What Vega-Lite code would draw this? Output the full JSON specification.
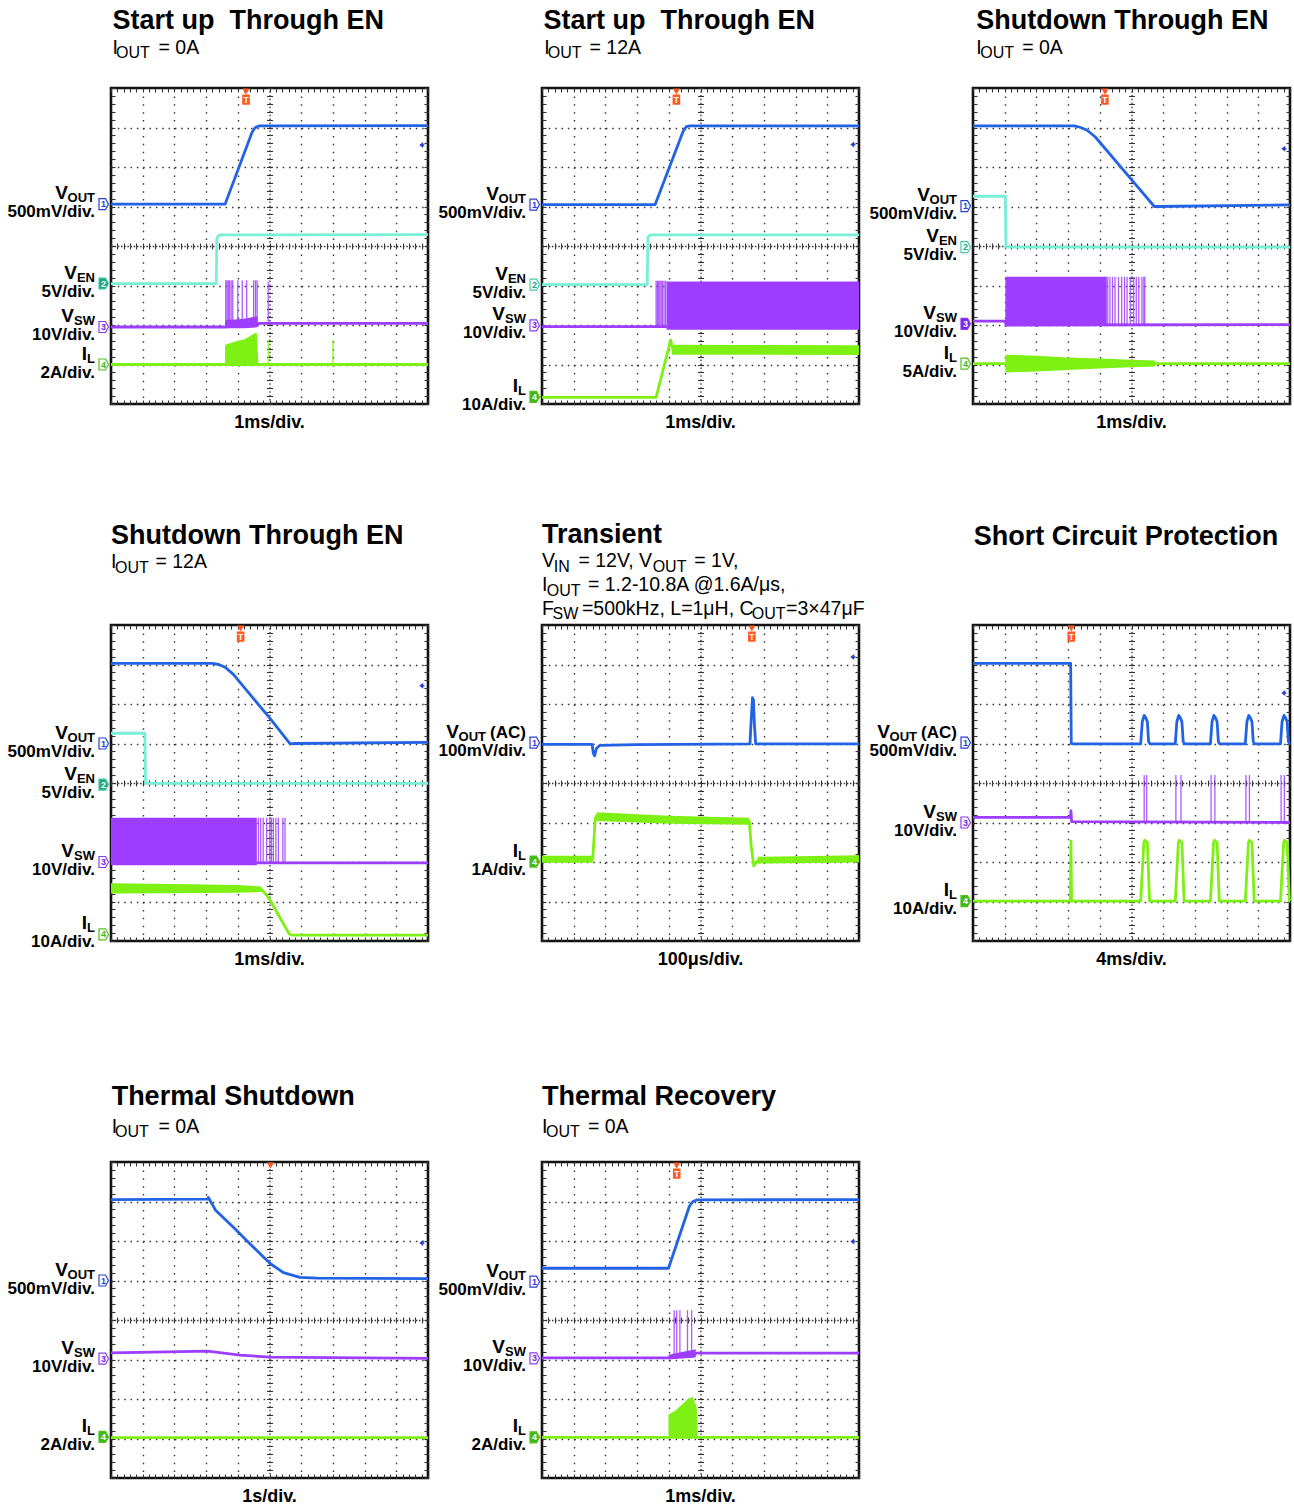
{
"$schema": "https://vega.github.io/schema/vega-lite/v6.json",
"background": "white",
"padding": {"left": 6, "top": 4, "right": 0, "bottom": 0},
"data": {"values": [
{"p":1,"k":"t","id":"1a","ch":"VOUT","x":0,"y":5.06},{"p":1,"k":"t","id":"1a","ch":"VOUT","x":3.6,"y":5.06},{"p":1,"k":"t","id":"1a","ch":"VOUT","x":4.45,"y":6.88},{"p":1,"k":"t","id":"1a","ch":"VOUT","x":4.55,"y":7.0},{"p":1,"k":"t","id":"1a","ch":"VOUT","x":4.68,"y":7.04},{"p":1,"k":"t","id":"1a","ch":"VOUT","x":10,"y":7.05},
{"p":1,"k":"t","id":"1b","ch":"VEN","x":0,"y":3.05},{"p":1,"k":"t","id":"1b","ch":"VEN","x":3.32,"y":3.05},{"p":1,"k":"t","id":"1b","ch":"VEN","x":3.34,"y":4.2},{"p":1,"k":"t","id":"1b","ch":"VEN","x":3.42,"y":4.28},{"p":1,"k":"t","id":"1b","ch":"VEN","x":10,"y":4.29},
{"p":1,"k":"t","id":"1c","ch":"VSW","x":0,"y":1.95},{"p":1,"k":"t","id":"1c","ch":"VSW","x":3.6,"y":1.95},{"p":1,"k":"t","id":"1c","ch":"VSW","x":4.62,"y":2.0},{"p":1,"k":"t","id":"1c","ch":"VSW","x":4.66,"y":2.04},{"p":1,"k":"t","id":"1c","ch":"VSW","x":10,"y":2.04},
{"p":1,"k":"t","id":"1d","ch":"IL","x":0,"y":1.0},{"p":1,"k":"t","id":"1d","ch":"IL","x":10,"y":1.0},
{"p":1,"k":"b","id":"1e","ch":"VSW","x":3.6,"y":1.92,"y2":2.12},{"p":1,"k":"b","id":"1e","ch":"VSW","x":4.2,"y":1.92,"y2":2.16},{"p":1,"k":"b","id":"1e","ch":"VSW","x":4.62,"y":1.94,"y2":2.22},
{"p":1,"k":"b","id":"1f","ch":"IL","x":3.6,"y":1.0,"y2":1.5},{"p":1,"k":"b","id":"1f","ch":"IL","x":3.8,"y":1.0,"y2":1.55},{"p":1,"k":"b","id":"1f","ch":"IL","x":4.0,"y":1.0,"y2":1.6},{"p":1,"k":"b","id":"1f","ch":"IL","x":4.2,"y":1.0,"y2":1.63},{"p":1,"k":"b","id":"1f","ch":"IL","x":4.35,"y":1.0,"y2":1.7},{"p":1,"k":"b","id":"1f","ch":"IL","x":4.5,"y":1.0,"y2":1.78},{"p":1,"k":"b","id":"1f","ch":"IL","x":4.6,"y":1.0,"y2":1.8},{"p":1,"k":"b","id":"1f","ch":"IL","x":4.65,"y":1.0,"y2":1.02},
{"p":1,"k":"s","ch":"VSW","x":3.62,"y":1.98,"y2":3.13},{"p":1,"k":"s","ch":"VSW","x":3.66,"y":1.98,"y2":3.13},{"p":1,"k":"s","ch":"VSW","x":3.7,"y":1.98,"y2":3.13},{"p":1,"k":"s","ch":"VSW","x":3.74,"y":1.98,"y2":3.13},{"p":1,"k":"s","ch":"VSW","x":3.79,"y":1.98,"y2":3.13},{"p":1,"k":"s","ch":"VSW","x":3.84,"y":1.98,"y2":3.13},{"p":1,"k":"s","ch":"VSW","x":4.0,"y":1.98,"y2":3.13},{"p":1,"k":"s","ch":"VSW","x":4.14,"y":1.98,"y2":3.13},{"p":1,"k":"s","ch":"VSW","x":4.28,"y":1.98,"y2":3.13},{"p":1,"k":"s","ch":"VSW","x":4.5,"y":1.98,"y2":3.13},{"p":1,"k":"s","ch":"VSW","x":4.56,"y":1.98,"y2":3.13},{"p":1,"k":"s","ch":"VSW","x":4.61,"y":1.98,"y2":3.13},{"p":1,"k":"s","ch":"VSW","x":4.96,"y":2.04,"y2":3.1},
{"p":1,"k":"s","ch":"IL","x":4.96,"y":1.0,"y2":1.62},{"p":1,"k":"s","ch":"IL","x":7.0,"y":1.0,"y2":1.62},
{"p":1,"k":"m","ch":"VOUT","y":5.06,"n":"1","act":false},{"p":1,"k":"m","ch":"VEN","y":3.05,"n":"2","act":true},{"p":1,"k":"m","ch":"VSW","y":1.95,"n":"3","act":false},{"p":1,"k":"m","ch":"IL","y":1.0,"n":"4","act":false},
{"p":1,"k":"l","ch":"VOUT","y":5.06,"mn":"V","sub":"OUT","sc":"500mV/div."},{"p":1,"k":"l","ch":"VEN","y":3.05,"mn":"V","sub":"EN","sc":"5V/div."},{"p":1,"k":"l","ch":"VSW","y":1.95,"mn":"V","sub":"SW","sc":"10V/div."},{"p":1,"k":"l","ch":"IL","y":1.0,"mn":"I","sub":"L","sc":"2A/div."},
{"p":1,"k":"T","x":0.05,"y":9.5,"txt":"Start up\u00a0 Through EN"},
{"p":1,"k":"u","s":"m","x":0.05,"y":8.87,"txt":"I"},{"p":1,"k":"u","s":"s","x":0.16,"y":8.76,"txt":"OUT"},{"p":1,"k":"u","s":"m","x":1.5,"y":8.87,"txt":"= 0A"},
{"p":1,"k":"g","x":4.26,"g":"T"},{"p":1,"k":"a","y":6.56},{"p":1,"k":"x","txt":"1ms/div."},

{"p":2,"k":"t","id":"2a","ch":"VOUT","x":0,"y":5.05},{"p":2,"k":"t","id":"2a","ch":"VOUT","x":3.57,"y":5.05},{"p":2,"k":"t","id":"2a","ch":"VOUT","x":4.45,"y":6.9},{"p":2,"k":"t","id":"2a","ch":"VOUT","x":4.55,"y":7.02},{"p":2,"k":"t","id":"2a","ch":"VOUT","x":4.66,"y":7.04},{"p":2,"k":"t","id":"2a","ch":"VOUT","x":10,"y":7.04},
{"p":2,"k":"t","id":"2b","ch":"VEN","x":0,"y":3.02},{"p":2,"k":"t","id":"2b","ch":"VEN","x":3.32,"y":3.02},{"p":2,"k":"t","id":"2b","ch":"VEN","x":3.34,"y":4.22},{"p":2,"k":"t","id":"2b","ch":"VEN","x":3.42,"y":4.28},{"p":2,"k":"t","id":"2b","ch":"VEN","x":10,"y":4.28},
{"p":2,"k":"t","id":"2c","ch":"VSW","x":0,"y":1.96},{"p":2,"k":"t","id":"2c","ch":"VSW","x":10,"y":1.96},
{"p":2,"k":"b","id":"2e","ch":"VSW","x":3.93,"y":1.88,"y2":3.1},{"p":2,"k":"b","id":"2e","ch":"VSW","x":10,"y":1.88,"y2":3.1},
{"p":2,"k":"s","ch":"VSW","x":3.6,"y":1.96,"y2":3.12},{"p":2,"k":"s","ch":"VSW","x":3.64,"y":1.96,"y2":3.12},{"p":2,"k":"s","ch":"VSW","x":3.68,"y":1.96,"y2":3.12},{"p":2,"k":"s","ch":"VSW","x":3.72,"y":1.96,"y2":3.12},{"p":2,"k":"s","ch":"VSW","x":3.76,"y":1.96,"y2":3.12},{"p":2,"k":"s","ch":"VSW","x":3.8,"y":1.96,"y2":3.12},{"p":2,"k":"s","ch":"VSW","x":3.85,"y":1.96,"y2":3.12},{"p":2,"k":"s","ch":"VSW","x":3.9,"y":1.96,"y2":3.12},
{"p":2,"k":"t","id":"2d","ch":"IL","x":0,"y":0.17},{"p":2,"k":"t","id":"2d","ch":"IL","x":3.6,"y":0.17},{"p":2,"k":"t","id":"2d","ch":"IL","x":4.06,"y":1.62},{"p":2,"k":"t","id":"2d","ch":"IL","x":4.12,"y":1.4},{"p":2,"k":"t","id":"2d","ch":"IL","x":10,"y":1.37},
{"p":2,"k":"b","id":"2f","ch":"IL","x":4.1,"y":1.25,"y2":1.5},{"p":2,"k":"b","id":"2f","ch":"IL","x":10,"y":1.24,"y2":1.49},
{"p":2,"k":"m","ch":"VOUT","y":5.05,"n":"1","act":false},{"p":2,"k":"m","ch":"VEN","y":3.02,"n":"2","act":false},{"p":2,"k":"m","ch":"VSW","y":1.99,"n":"3","act":false},{"p":2,"k":"m","ch":"IL","y":0.18,"n":"4","act":true},
{"p":2,"k":"l","ch":"VOUT","y":5.05,"mn":"V","sub":"OUT","sc":"500mV/div."},{"p":2,"k":"l","ch":"VEN","y":3.02,"mn":"V","sub":"EN","sc":"5V/div."},{"p":2,"k":"l","ch":"VSW","y":1.99,"mn":"V","sub":"SW","sc":"10V/div."},{"p":2,"k":"l","ch":"IL","y":0.18,"mn":"I","sub":"L","sc":"10A/div."},
{"p":2,"k":"T","x":0.05,"y":9.5,"txt":"Start up\u00a0 Through EN"},
{"p":2,"k":"u","s":"m","x":0.07,"y":8.87,"txt":"I"},{"p":2,"k":"u","s":"s","x":0.18,"y":8.76,"txt":"OUT"},{"p":2,"k":"u","s":"m","x":1.5,"y":8.87,"txt":"= 12A"},
{"p":2,"k":"g","x":4.24,"g":"T"},{"p":2,"k":"a","y":6.57},{"p":2,"k":"x","txt":"1ms/div."},

{"p":3,"k":"t","id":"3a","ch":"VOUT","x":0,"y":7.04},{"p":3,"k":"t","id":"3a","ch":"VOUT","x":3.2,"y":7.04},{"p":3,"k":"t","id":"3a","ch":"VOUT","x":3.4,"y":7.0},{"p":3,"k":"t","id":"3a","ch":"VOUT","x":3.6,"y":6.93},{"p":3,"k":"t","id":"3a","ch":"VOUT","x":3.86,"y":6.76},{"p":3,"k":"t","id":"3a","ch":"VOUT","x":5.02,"y":5.66},{"p":3,"k":"t","id":"3a","ch":"VOUT","x":5.72,"y":5.0},{"p":3,"k":"t","id":"3a","ch":"VOUT","x":5.8,"y":5.0},{"p":3,"k":"t","id":"3a","ch":"VOUT","x":10,"y":5.04},
{"p":3,"k":"t","id":"3b","ch":"VEN","x":0,"y":5.26},{"p":3,"k":"t","id":"3b","ch":"VEN","x":1.02,"y":5.26},{"p":3,"k":"t","id":"3b","ch":"VEN","x":1.04,"y":3.97},{"p":3,"k":"t","id":"3b","ch":"VEN","x":10,"y":3.97},
{"p":3,"k":"t","id":"3c","ch":"VSW","x":0,"y":2.1},{"p":3,"k":"t","id":"3c","ch":"VSW","x":1.02,"y":2.1},{"p":3,"k":"t","id":"3c","ch":"VSW","x":1.04,"y":2.0},{"p":3,"k":"t","id":"3c","ch":"VSW","x":10,"y":2.01},
{"p":3,"k":"b","id":"3e","ch":"VSW","x":1.02,"y":1.99,"y2":3.22},{"p":3,"k":"b","id":"3e","ch":"VSW","x":4.22,"y":1.99,"y2":3.22},
{"p":3,"k":"s","ch":"VSW","x":4.25,"y":2.0,"y2":3.22},{"p":3,"k":"s","ch":"VSW","x":4.32,"y":2.0,"y2":3.22},{"p":3,"k":"s","ch":"VSW","x":4.4,"y":2.0,"y2":3.22},{"p":3,"k":"s","ch":"VSW","x":4.48,"y":2.0,"y2":3.22},{"p":3,"k":"s","ch":"VSW","x":4.59,"y":2.0,"y2":3.22},{"p":3,"k":"s","ch":"VSW","x":4.69,"y":2.0,"y2":3.22},{"p":3,"k":"s","ch":"VSW","x":4.78,"y":2.0,"y2":3.22},{"p":3,"k":"s","ch":"VSW","x":4.86,"y":2.0,"y2":3.22},{"p":3,"k":"s","ch":"VSW","x":4.96,"y":2.0,"y2":3.22},{"p":3,"k":"s","ch":"VSW","x":5.07,"y":2.0,"y2":3.22},{"p":3,"k":"s","ch":"VSW","x":5.15,"y":2.0,"y2":3.22},{"p":3,"k":"s","ch":"VSW","x":5.23,"y":2.0,"y2":3.22},{"p":3,"k":"s","ch":"VSW","x":5.33,"y":2.0,"y2":3.22},{"p":3,"k":"s","ch":"VSW","x":5.39,"y":2.0,"y2":3.22},{"p":3,"k":"s","ch":"VSW","x":5.42,"y":2.0,"y2":3.22},
{"p":3,"k":"t","id":"3d","ch":"IL","x":0,"y":1.02},{"p":3,"k":"t","id":"3d","ch":"IL","x":10,"y":1.02},
{"p":3,"k":"b","id":"3f","ch":"IL","x":1.02,"y":0.8,"y2":1.25},{"p":3,"k":"b","id":"3f","ch":"IL","x":2.0,"y":0.82,"y2":1.22},{"p":3,"k":"b","id":"3f","ch":"IL","x":3.0,"y":0.86,"y2":1.18},{"p":3,"k":"b","id":"3f","ch":"IL","x":4.0,"y":0.9,"y2":1.15},{"p":3,"k":"b","id":"3f","ch":"IL","x":5.0,"y":0.93,"y2":1.12},{"p":3,"k":"b","id":"3f","ch":"IL","x":5.75,"y":0.95,"y2":1.1},
{"p":3,"k":"m","ch":"VOUT","y":5.01,"n":"1","act":false},{"p":3,"k":"m","ch":"VEN","y":3.97,"n":"2","act":false},{"p":3,"k":"m","ch":"VSW","y":2.03,"n":"3","act":true},{"p":3,"k":"m","ch":"IL","y":1.02,"n":"4","act":false},
{"p":3,"k":"l","ch":"VOUT","y":5.01,"mn":"V","sub":"OUT","sc":"500mV/div."},{"p":3,"k":"l","ch":"VEN","y":3.97,"mn":"V","sub":"EN","sc":"5V/div."},{"p":3,"k":"l","ch":"VSW","y":2.03,"mn":"V","sub":"SW","sc":"10V/div."},{"p":3,"k":"l","ch":"IL","y":1.02,"mn":"I","sub":"L","sc":"5A/div."},
{"p":3,"k":"T","x":0.1,"y":9.5,"txt":"Shutdown Through EN"},
{"p":3,"k":"u","s":"m","x":0.1,"y":8.87,"txt":"I"},{"p":3,"k":"u","s":"s","x":0.23,"y":8.76,"txt":"OUT"},{"p":3,"k":"u","s":"m","x":1.55,"y":8.87,"txt":"= 0A"},
{"p":3,"k":"g","x":4.16,"g":"T"},{"p":3,"k":"a","y":6.46},{"p":3,"k":"x","txt":"1ms/div."},

{"p":4,"k":"t","id":"4a","ch":"VOUT","x":0,"y":7.03},{"p":4,"k":"t","id":"4a","ch":"VOUT","x":3.2,"y":7.03},{"p":4,"k":"t","id":"4a","ch":"VOUT","x":3.4,"y":7.0},{"p":4,"k":"t","id":"4a","ch":"VOUT","x":3.6,"y":6.93},{"p":4,"k":"t","id":"4a","ch":"VOUT","x":3.86,"y":6.75},{"p":4,"k":"t","id":"4a","ch":"VOUT","x":5.01,"y":5.64},{"p":4,"k":"t","id":"4a","ch":"VOUT","x":5.62,"y":5.02},{"p":4,"k":"t","id":"4a","ch":"VOUT","x":5.68,"y":4.99},{"p":4,"k":"t","id":"4a","ch":"VOUT","x":5.8,"y":5.0},{"p":4,"k":"t","id":"4a","ch":"VOUT","x":10,"y":5.03},
{"p":4,"k":"t","id":"4b","ch":"VEN","x":0,"y":5.26},{"p":4,"k":"t","id":"4b","ch":"VEN","x":1.07,"y":5.26},{"p":4,"k":"t","id":"4b","ch":"VEN","x":1.09,"y":3.99},{"p":4,"k":"t","id":"4b","ch":"VEN","x":10,"y":3.99},
{"p":4,"k":"t","id":"4c","ch":"VSW","x":0,"y":1.98},{"p":4,"k":"t","id":"4c","ch":"VSW","x":10,"y":1.98},
{"p":4,"k":"b","id":"4e","ch":"VSW","x":0,"y":1.92,"y2":3.12},{"p":4,"k":"b","id":"4e","ch":"VSW","x":4.6,"y":1.92,"y2":3.12},
{"p":4,"k":"s","ch":"VSW","x":4.65,"y":1.98,"y2":3.12},{"p":4,"k":"s","ch":"VSW","x":4.72,"y":1.98,"y2":3.12},{"p":4,"k":"s","ch":"VSW","x":4.8,"y":1.98,"y2":3.12},{"p":4,"k":"s","ch":"VSW","x":4.91,"y":1.98,"y2":3.12},{"p":4,"k":"s","ch":"VSW","x":5.01,"y":1.98,"y2":3.12},{"p":4,"k":"s","ch":"VSW","x":5.06,"y":1.98,"y2":3.12},{"p":4,"k":"s","ch":"VSW","x":5.12,"y":1.98,"y2":3.12},{"p":4,"k":"s","ch":"VSW","x":5.2,"y":1.98,"y2":3.12},{"p":4,"k":"s","ch":"VSW","x":5.28,"y":1.98,"y2":3.12},{"p":4,"k":"s","ch":"VSW","x":5.42,"y":1.98,"y2":3.12},{"p":4,"k":"s","ch":"VSW","x":5.49,"y":1.98,"y2":3.12},
{"p":4,"k":"t","id":"4d","ch":"IL","x":0,"y":1.34},{"p":4,"k":"t","id":"4d","ch":"IL","x":4.75,"y":1.3},{"p":4,"k":"t","id":"4d","ch":"IL","x":4.9,"y":1.17},{"p":4,"k":"t","id":"4d","ch":"IL","x":5.02,"y":1.03},{"p":4,"k":"t","id":"4d","ch":"IL","x":5.62,"y":0.18},{"p":4,"k":"t","id":"4d","ch":"IL","x":5.7,"y":0.15},{"p":4,"k":"t","id":"4d","ch":"IL","x":10,"y":0.15},
{"p":4,"k":"b","id":"4f","ch":"IL","x":0,"y":1.2,"y2":1.46},{"p":4,"k":"b","id":"4f","ch":"IL","x":2,"y":1.21,"y2":1.44},{"p":4,"k":"b","id":"4f","ch":"IL","x":4,"y":1.22,"y2":1.42},{"p":4,"k":"b","id":"4f","ch":"IL","x":4.75,"y":1.24,"y2":1.38},
{"p":4,"k":"m","ch":"VOUT","y":5.0,"n":"1","act":false},{"p":4,"k":"m","ch":"VEN","y":3.96,"n":"2","act":true},{"p":4,"k":"m","ch":"VSW","y":2.0,"n":"3","act":false},{"p":4,"k":"m","ch":"IL","y":0.17,"n":"4","act":false},
{"p":4,"k":"l","ch":"VOUT","y":5.0,"mn":"V","sub":"OUT","sc":"500mV/div."},{"p":4,"k":"l","ch":"VEN","y":3.96,"mn":"V","sub":"EN","sc":"5V/div."},{"p":4,"k":"l","ch":"VSW","y":2.0,"mn":"V","sub":"SW","sc":"10V/div."},{"p":4,"k":"l","ch":"IL","y":0.17,"mn":"I","sub":"L","sc":"10A/div."},
{"p":4,"k":"T","x":0,"y":10.05,"txt":"Shutdown Through EN"},
{"p":4,"k":"u","s":"m","x":0,"y":9.45,"txt":"I"},{"p":4,"k":"u","s":"s","x":0.13,"y":9.32,"txt":"OUT"},{"p":4,"k":"u","s":"m","x":1.4,"y":9.45,"txt":"= 12A"},
{"p":4,"k":"g","x":4.09,"g":"T"},{"p":4,"k":"a","y":6.46},{"p":4,"k":"x","txt":"1ms/div."},

{"p":5,"k":"t","id":"5a","ch":"VOUT","x":0,"y":4.98},{"p":5,"k":"t","id":"5a","ch":"VOUT","x":1.58,"y":4.98},{"p":5,"k":"t","id":"5a","ch":"VOUT","x":1.62,"y":4.75},{"p":5,"k":"t","id":"5a","ch":"VOUT","x":1.66,"y":4.69},{"p":5,"k":"t","id":"5a","ch":"VOUT","x":1.72,"y":4.88},{"p":5,"k":"t","id":"5a","ch":"VOUT","x":1.82,"y":4.95},{"p":5,"k":"t","id":"5a","ch":"VOUT","x":3,"y":4.97},{"p":5,"k":"t","id":"5a","ch":"VOUT","x":6.56,"y":4.99},{"p":5,"k":"t","id":"5a","ch":"VOUT","x":6.6,"y":5.6},{"p":5,"k":"t","id":"5a","ch":"VOUT","x":6.64,"y":6.16},{"p":5,"k":"t","id":"5a","ch":"VOUT","x":6.67,"y":6.1},{"p":5,"k":"t","id":"5a","ch":"VOUT","x":6.7,"y":5.5},{"p":5,"k":"t","id":"5a","ch":"VOUT","x":6.74,"y":4.99},{"p":5,"k":"t","id":"5a","ch":"VOUT","x":10,"y":4.99},
{"p":5,"k":"t","id":"5d","ch":"IL","x":0,"y":2.07},{"p":5,"k":"t","id":"5d","ch":"IL","x":1.6,"y":2.07},{"p":5,"k":"t","id":"5d","ch":"IL","x":1.68,"y":3.1},{"p":5,"k":"t","id":"5d","ch":"IL","x":1.72,"y":3.17},{"p":5,"k":"t","id":"5d","ch":"IL","x":2,"y":3.12},{"p":5,"k":"t","id":"5d","ch":"IL","x":4,"y":3.07},{"p":5,"k":"t","id":"5d","ch":"IL","x":6.54,"y":3.03},{"p":5,"k":"t","id":"5d","ch":"IL","x":6.6,"y":2.4},{"p":5,"k":"t","id":"5d","ch":"IL","x":6.68,"y":1.9},{"p":5,"k":"t","id":"5d","ch":"IL","x":6.78,"y":2.02},{"p":5,"k":"t","id":"5d","ch":"IL","x":10,"y":2.08},
{"p":5,"k":"b","id":"5f1","ch":"IL","x":0,"y":1.98,"y2":2.16},{"p":5,"k":"b","id":"5f1","ch":"IL","x":1.6,"y":1.98,"y2":2.16},
{"p":5,"k":"b","id":"5f2","ch":"IL","x":1.72,"y":3.04,"y2":3.26},{"p":5,"k":"b","id":"5f2","ch":"IL","x":4,"y":2.97,"y2":3.17},{"p":5,"k":"b","id":"5f2","ch":"IL","x":6.54,"y":2.94,"y2":3.12},
{"p":5,"k":"b","id":"5f3","ch":"IL","x":6.8,"y":1.96,"y2":2.13},{"p":5,"k":"b","id":"5f3","ch":"IL","x":10,"y":1.99,"y2":2.17},
{"p":5,"k":"m","ch":"VOUT","y":5.02,"n":"1","act":false},{"p":5,"k":"m","ch":"IL","y":2.01,"n":"4","act":true},
{"p":5,"k":"l","ch":"VOUT","y":5.02,"mn":"V","sub":"OUT","suf":"(AC)","sc":"100mV/div."},{"p":5,"k":"l","ch":"IL","y":2.01,"mn":"I","sub":"L","sc":"1A/div."},
{"p":5,"k":"T","x":0,"y":10.08,"txt":"Transient"},
{"p":5,"k":"u","s":"m","x":0,"y":9.46,"txt":"V"},{"p":5,"k":"u","s":"s","x":0.37,"y":9.34,"txt":"IN"},{"p":5,"k":"u","s":"m","x":1.15,"y":9.46,"txt":"= 12V, V"},{"p":5,"k":"u","s":"s","x":3.49,"y":9.34,"txt":"OUT"},{"p":5,"k":"u","s":"m","x":4.8,"y":9.46,"txt":"= 1V,"},
{"p":5,"k":"u","s":"m","x":0,"y":8.86,"txt":"I"},{"p":5,"k":"u","s":"s","x":0.15,"y":8.73,"txt":"OUT"},{"p":5,"k":"u","s":"m","x":1.45,"y":8.86,"txt":"= 1.2-10.8A @1.6A/μs,"},
{"p":5,"k":"u","s":"m","x":0,"y":8.25,"txt":"F"},{"p":5,"k":"u","s":"s","x":0.33,"y":8.14,"txt":"SW"},{"p":5,"k":"u","s":"m","x":1.26,"y":8.25,"txt":"=500kHz, L=1μH, C"},{"p":5,"k":"u","s":"s","x":6.62,"y":8.14,"txt":"OUT"},{"p":5,"k":"u","s":"m","x":7.7,"y":8.25,"txt":"=3×47μF"},
{"p":5,"k":"g","x":6.62,"g":"T"},{"p":5,"k":"a","y":7.19},{"p":5,"k":"x","txt":"100μs/div."},

{"p":6,"k":"t","id":"6a","ch":"VOUT","x":0,"y":7.03},{"p":6,"k":"t","id":"6a","ch":"VOUT","x":3.08,"y":7.03},{"p":6,"k":"t","id":"6a","ch":"VOUT","x":3.1,"y":5.0},{"p":6,"k":"t","id":"6a","ch":"VOUT","x":3.14,"y":4.99},
{"p":6,"k":"t","id":"6a","ch":"VOUT","x":5.29,"y":4.99},{"p":6,"k":"t","id":"6a","ch":"VOUT","x":5.34,"y":5.55},{"p":6,"k":"t","id":"6a","ch":"VOUT","x":5.4,"y":5.71},{"p":6,"k":"t","id":"6a","ch":"VOUT","x":5.45,"y":5.65},{"p":6,"k":"t","id":"6a","ch":"VOUT","x":5.5,"y":5.55},{"p":6,"k":"t","id":"6a","ch":"VOUT","x":5.54,"y":5.05},{"p":6,"k":"t","id":"6a","ch":"VOUT","x":5.58,"y":4.99},
{"p":6,"k":"t","id":"6a","ch":"VOUT","x":6.38,"y":4.99},{"p":6,"k":"t","id":"6a","ch":"VOUT","x":6.43,"y":5.55},{"p":6,"k":"t","id":"6a","ch":"VOUT","x":6.49,"y":5.71},{"p":6,"k":"t","id":"6a","ch":"VOUT","x":6.54,"y":5.65},{"p":6,"k":"t","id":"6a","ch":"VOUT","x":6.59,"y":5.55},{"p":6,"k":"t","id":"6a","ch":"VOUT","x":6.63,"y":5.05},{"p":6,"k":"t","id":"6a","ch":"VOUT","x":6.67,"y":4.99},
{"p":6,"k":"t","id":"6a","ch":"VOUT","x":7.49,"y":4.99},{"p":6,"k":"t","id":"6a","ch":"VOUT","x":7.54,"y":5.55},{"p":6,"k":"t","id":"6a","ch":"VOUT","x":7.6,"y":5.71},{"p":6,"k":"t","id":"6a","ch":"VOUT","x":7.65,"y":5.65},{"p":6,"k":"t","id":"6a","ch":"VOUT","x":7.7,"y":5.55},{"p":6,"k":"t","id":"6a","ch":"VOUT","x":7.74,"y":5.05},{"p":6,"k":"t","id":"6a","ch":"VOUT","x":7.78,"y":4.99},
{"p":6,"k":"t","id":"6a","ch":"VOUT","x":8.59,"y":4.99},{"p":6,"k":"t","id":"6a","ch":"VOUT","x":8.64,"y":5.55},{"p":6,"k":"t","id":"6a","ch":"VOUT","x":8.7,"y":5.71},{"p":6,"k":"t","id":"6a","ch":"VOUT","x":8.75,"y":5.65},{"p":6,"k":"t","id":"6a","ch":"VOUT","x":8.8,"y":5.55},{"p":6,"k":"t","id":"6a","ch":"VOUT","x":8.84,"y":5.05},{"p":6,"k":"t","id":"6a","ch":"VOUT","x":8.88,"y":4.99},
{"p":6,"k":"t","id":"6a","ch":"VOUT","x":9.7,"y":4.99},{"p":6,"k":"t","id":"6a","ch":"VOUT","x":9.75,"y":5.55},{"p":6,"k":"t","id":"6a","ch":"VOUT","x":9.81,"y":5.71},{"p":6,"k":"t","id":"6a","ch":"VOUT","x":9.86,"y":5.65},{"p":6,"k":"t","id":"6a","ch":"VOUT","x":9.91,"y":5.55},{"p":6,"k":"t","id":"6a","ch":"VOUT","x":9.95,"y":5.05},{"p":6,"k":"t","id":"6a","ch":"VOUT","x":9.99,"y":4.99},{"p":6,"k":"t","id":"6a","ch":"VOUT","x":10,"y":4.99},
{"p":6,"k":"t","id":"6c","ch":"VSW","x":0,"y":3.13},{"p":6,"k":"t","id":"6c","ch":"VSW","x":3.07,"y":3.13},{"p":6,"k":"t","id":"6c","ch":"VSW","x":3.09,"y":3.3},{"p":6,"k":"t","id":"6c","ch":"VSW","x":3.11,"y":3.02},{"p":6,"k":"t","id":"6c","ch":"VSW","x":10,"y":3.0},
{"p":6,"k":"s","ch":"VSW","x":5.4,"y":3.0,"y2":4.2},{"p":6,"k":"s","ch":"VSW","x":5.48,"y":3.0,"y2":4.2},{"p":6,"k":"s","ch":"VSW","x":6.4,"y":3.0,"y2":4.2},{"p":6,"k":"s","ch":"VSW","x":6.56,"y":3.0,"y2":4.2},{"p":6,"k":"s","ch":"VSW","x":7.51,"y":3.0,"y2":4.2},{"p":6,"k":"s","ch":"VSW","x":7.63,"y":3.0,"y2":4.2},{"p":6,"k":"s","ch":"VSW","x":8.61,"y":3.0,"y2":4.2},{"p":6,"k":"s","ch":"VSW","x":8.72,"y":3.0,"y2":4.2},{"p":6,"k":"s","ch":"VSW","x":9.72,"y":3.0,"y2":4.2},{"p":6,"k":"s","ch":"VSW","x":9.82,"y":3.0,"y2":4.2},
{"p":6,"k":"t","id":"6d","ch":"IL","x":0,"y":1.01},{"p":6,"k":"t","id":"6d","ch":"IL","x":3.07,"y":1.01},{"p":6,"k":"t","id":"6d","ch":"IL","x":3.09,"y":2.53},{"p":6,"k":"t","id":"6d","ch":"IL","x":3.11,"y":1.01},
{"p":6,"k":"t","id":"6d","ch":"IL","x":5.29,"y":1.01},{"p":6,"k":"t","id":"6d","ch":"IL","x":5.39,"y":2.5},{"p":6,"k":"t","id":"6d","ch":"IL","x":5.42,"y":2.55},{"p":6,"k":"t","id":"6d","ch":"IL","x":5.5,"y":2.5},{"p":6,"k":"t","id":"6d","ch":"IL","x":5.57,"y":1.01},
{"p":6,"k":"t","id":"6d","ch":"IL","x":6.38,"y":1.01},{"p":6,"k":"t","id":"6d","ch":"IL","x":6.48,"y":2.5},{"p":6,"k":"t","id":"6d","ch":"IL","x":6.51,"y":2.55},{"p":6,"k":"t","id":"6d","ch":"IL","x":6.59,"y":2.5},{"p":6,"k":"t","id":"6d","ch":"IL","x":6.66,"y":1.01},
{"p":6,"k":"t","id":"6d","ch":"IL","x":7.49,"y":1.01},{"p":6,"k":"t","id":"6d","ch":"IL","x":7.59,"y":2.5},{"p":6,"k":"t","id":"6d","ch":"IL","x":7.62,"y":2.55},{"p":6,"k":"t","id":"6d","ch":"IL","x":7.7,"y":2.5},{"p":6,"k":"t","id":"6d","ch":"IL","x":7.77,"y":1.01},
{"p":6,"k":"t","id":"6d","ch":"IL","x":8.59,"y":1.01},{"p":6,"k":"t","id":"6d","ch":"IL","x":8.69,"y":2.5},{"p":6,"k":"t","id":"6d","ch":"IL","x":8.72,"y":2.55},{"p":6,"k":"t","id":"6d","ch":"IL","x":8.8,"y":2.5},{"p":6,"k":"t","id":"6d","ch":"IL","x":8.87,"y":1.01},
{"p":6,"k":"t","id":"6d","ch":"IL","x":9.7,"y":1.01},{"p":6,"k":"t","id":"6d","ch":"IL","x":9.8,"y":2.5},{"p":6,"k":"t","id":"6d","ch":"IL","x":9.83,"y":2.55},{"p":6,"k":"t","id":"6d","ch":"IL","x":9.91,"y":2.5},{"p":6,"k":"t","id":"6d","ch":"IL","x":9.98,"y":1.01},{"p":6,"k":"t","id":"6d","ch":"IL","x":10,"y":1.01},
{"p":6,"k":"m","ch":"VOUT","y":5.02,"n":"1","act":false},{"p":6,"k":"m","ch":"VSW","y":3.0,"n":"3","act":false},{"p":6,"k":"m","ch":"IL","y":1.01,"n":"4","act":true},
{"p":6,"k":"l","ch":"VOUT","y":5.02,"mn":"V","sub":"OUT","suf":"(AC)","sc":"500mV/div."},{"p":6,"k":"l","ch":"VSW","y":3.0,"mn":"V","sub":"SW","sc":"10V/div."},{"p":6,"k":"l","ch":"IL","y":1.01,"mn":"I","sub":"L","sc":"10A/div."},
{"p":6,"k":"T","x":0.02,"y":10.03,"txt":"Short Circuit Protection"},
{"p":6,"k":"g","x":3.1,"g":"T"},{"p":6,"k":"a","y":6.28},{"p":6,"k":"x","txt":"4ms/div."},

{"p":7,"k":"t","id":"7a","ch":"VOUT","x":0,"y":7.05},{"p":7,"k":"t","id":"7a","ch":"VOUT","x":3.04,"y":7.06},{"p":7,"k":"t","id":"7a","ch":"VOUT","x":3.07,"y":7.1},{"p":7,"k":"t","id":"7a","ch":"VOUT","x":3.3,"y":6.78},{"p":7,"k":"t","id":"7a","ch":"VOUT","x":3.86,"y":6.35},{"p":7,"k":"t","id":"7a","ch":"VOUT","x":4.38,"y":5.93},{"p":7,"k":"t","id":"7a","ch":"VOUT","x":5.02,"y":5.43},{"p":7,"k":"t","id":"7a","ch":"VOUT","x":5.44,"y":5.2},{"p":7,"k":"t","id":"7a","ch":"VOUT","x":5.96,"y":5.08},{"p":7,"k":"t","id":"7a","ch":"VOUT","x":6.5,"y":5.06},{"p":7,"k":"t","id":"7a","ch":"VOUT","x":10,"y":5.05},
{"p":7,"k":"t","id":"7c","ch":"VSW","x":0,"y":3.17},{"p":7,"k":"t","id":"7c","ch":"VSW","x":3.05,"y":3.21},{"p":7,"k":"t","id":"7c","ch":"VSW","x":4.07,"y":3.11},{"p":7,"k":"t","id":"7c","ch":"VSW","x":5.02,"y":3.06},{"p":7,"k":"t","id":"7c","ch":"VSW","x":10,"y":3.03},
{"p":7,"k":"t","id":"7d","ch":"IL","x":0,"y":1.02},{"p":7,"k":"t","id":"7d","ch":"IL","x":10,"y":1.02},
{"p":7,"k":"m","ch":"VOUT","y":5.0,"n":"1","act":false},{"p":7,"k":"m","ch":"VSW","y":3.02,"n":"3","act":false},{"p":7,"k":"m","ch":"IL","y":1.04,"n":"4","act":true},
{"p":7,"k":"l","ch":"VOUT","y":5.0,"mn":"V","sub":"OUT","sc":"500mV/div."},{"p":7,"k":"l","ch":"VSW","y":3.02,"mn":"V","sub":"SW","sc":"10V/div."},{"p":7,"k":"l","ch":"IL","y":1.04,"mn":"I","sub":"L","sc":"2A/div."},
{"p":7,"k":"T","x":0.02,"y":9.44,"txt":"Thermal Shutdown"},
{"p":7,"k":"u","s":"m","x":0.02,"y":8.74,"txt":"I"},{"p":7,"k":"u","s":"s","x":0.13,"y":8.64,"txt":"OUT"},{"p":7,"k":"u","s":"m","x":1.5,"y":8.74,"txt":"= 0A"},
{"p":7,"k":"g","x":5.03,"g":"t"},{"p":7,"k":"a","y":5.95},{"p":7,"k":"x","txt":"1s/div."},

{"p":8,"k":"t","id":"8a","ch":"VOUT","x":0,"y":5.31},{"p":8,"k":"t","id":"8a","ch":"VOUT","x":3.99,"y":5.31},{"p":8,"k":"t","id":"8a","ch":"VOUT","x":4.65,"y":6.88},{"p":8,"k":"t","id":"8a","ch":"VOUT","x":4.76,"y":7.0},{"p":8,"k":"t","id":"8a","ch":"VOUT","x":4.88,"y":7.04},{"p":8,"k":"t","id":"8a","ch":"VOUT","x":10,"y":7.05},
{"p":8,"k":"t","id":"8c","ch":"VSW","x":0,"y":3.04},{"p":8,"k":"t","id":"8c","ch":"VSW","x":3.99,"y":3.04},{"p":8,"k":"t","id":"8c","ch":"VSW","x":4.8,"y":3.12},{"p":8,"k":"t","id":"8c","ch":"VSW","x":4.86,"y":3.16},{"p":8,"k":"t","id":"8c","ch":"VSW","x":10,"y":3.16},
{"p":8,"k":"b","id":"8e","ch":"VSW","x":3.99,"y":3.0,"y2":3.12},{"p":8,"k":"b","id":"8e","ch":"VSW","x":4.85,"y":3.05,"y2":3.26},
{"p":8,"k":"s","ch":"VSW","x":4.17,"y":3.05,"y2":4.25},{"p":8,"k":"s","ch":"VSW","x":4.25,"y":3.05,"y2":4.25},{"p":8,"k":"s","ch":"VSW","x":4.35,"y":3.05,"y2":4.25},{"p":8,"k":"s","ch":"VSW","x":4.59,"y":3.05,"y2":4.25},{"p":8,"k":"s","ch":"VSW","x":4.72,"y":3.05,"y2":4.25},
{"p":8,"k":"t","id":"8d","ch":"IL","x":0,"y":1.03},{"p":8,"k":"t","id":"8d","ch":"IL","x":10,"y":1.03},
{"p":8,"k":"b","id":"8f","ch":"IL","x":3.99,"y":1.03,"y2":1.6},{"p":8,"k":"b","id":"8f","ch":"IL","x":4.2,"y":1.03,"y2":1.7},{"p":8,"k":"b","id":"8f","ch":"IL","x":4.4,"y":1.03,"y2":1.85},{"p":8,"k":"b","id":"8f","ch":"IL","x":4.6,"y":1.03,"y2":2.0},{"p":8,"k":"b","id":"8f","ch":"IL","x":4.75,"y":1.03,"y2":2.06},{"p":8,"k":"b","id":"8f","ch":"IL","x":4.88,"y":1.03,"y2":1.8},{"p":8,"k":"b","id":"8f","ch":"IL","x":4.92,"y":1.03,"y2":1.05},
{"p":8,"k":"m","ch":"VOUT","y":4.97,"n":"1","act":false},{"p":8,"k":"m","ch":"VSW","y":3.03,"n":"3","act":false},{"p":8,"k":"m","ch":"IL","y":1.03,"n":"4","act":true},
{"p":8,"k":"l","ch":"VOUT","y":4.97,"mn":"V","sub":"OUT","sc":"500mV/div."},{"p":8,"k":"l","ch":"VSW","y":3.03,"mn":"V","sub":"SW","sc":"10V/div."},{"p":8,"k":"l","ch":"IL","y":1.03,"mn":"I","sub":"L","sc":"2A/div."},
{"p":8,"k":"T","x":0,"y":9.44,"txt":"Thermal Recovery"},
{"p":8,"k":"u","s":"m","x":0,"y":8.74,"txt":"I"},{"p":8,"k":"u","s":"s","x":0.13,"y":8.64,"txt":"OUT"},{"p":8,"k":"u","s":"m","x":1.45,"y":8.74,"txt":"= 0A"},
{"p":8,"k":"g","x":4.25,"g":"T"},{"p":8,"k":"a","y":5.99},{"p":8,"k":"x","txt":"1ms/div."}
]},
"facet": {"field": "p", "type": "ordinal", "header": {"labels": false, "title": null, "labelPadding": 0, "titlePadding": 0, "labelFontSize": 1, "labelExpr": "''"}, "title": null},
"columns": 3,
"spacing": {"row": 221, "column": 114},
"bounds": "flush",
"resolve": {"axis": {"x": "independent", "y": "independent"}},
"spec": {
 "width": 317,
 "height": 316,
 "resolve": {"axis": {"x": "independent", "y": "independent"}},
 "layer": [
  {"transform": [{"filter": "datum.k=='b'"}],
   "mark": {"type": "area", "opacity": 1},
   "encoding": {
    "x": {"field": "x", "type": "quantitative", "scale": {"domain": [0, 10]}, "axis": {"orient": "bottom", "grid": true, "values": [1,2,3,4,6,7,8,9], "gridDash": [1.5, 6.4], "title": null}},
    "y": {"field": "y", "type": "quantitative", "scale": {"domain": [0, 8]}, "axis": {"orient": "left", "grid": true, "values": [1,2,3,5,6,7], "gridDash": [1.5, 4.84], "title": null}},
    "y2": {"field": "y2"},
    "detail": {"field": "id"},
    "color": {"field": "ch", "type": "nominal", "scale": {"domain": ["VOUT","VEN","VSW","IL"], "range": ["#2263e6","#78f0d6","#9d3dff","#7ff014"]}, "legend": null}
   }},
  {"transform": [{"filter": "datum.k=='t'"}],
   "mark": {"type": "line", "strokeWidth": 2.8, "strokeJoin": "round"},
   "encoding": {
    "x": {"field": "x", "type": "quantitative", "scale": {"domain": [0, 10]}, "axis": {"orient": "top", "offset": -158, "domain": true, "domainDash": [1.5, 1.67], "ticks": true, "tickSize": 3, "title": null, "values": [0,0.2,0.4,0.6,0.8,1,1.2,1.4,1.6,1.8,2,2.2,2.4,2.6,2.8,3,3.2,3.4,3.6,3.8,4,4.2,4.4,4.6,4.8,5,5.2,5.4,5.6,5.8,6,6.2,6.4,6.6,6.8,7,7.2,7.4,7.6,7.8,8,8.2,8.4,8.6,8.8,9,9.2,9.4,9.6,9.8,10]}},
    "y": {"field": "y", "type": "quantitative", "scale": {"domain": [0, 8]}, "axis": {"orient": "left", "offset": -158.5, "domain": true, "domainDash": [1.5, 2.45], "ticks": true, "tickSize": 3, "title": null, "values": [0,0.2,0.4,0.6,0.8,1,1.2,1.4,1.6,1.8,2,2.2,2.4,2.6,2.8,3,3.2,3.4,3.6,3.8,4,4.2,4.4,4.6,4.8,5,5.2,5.4,5.6,5.8,6,6.2,6.4,6.6,6.8,7,7.2,7.4,7.6,7.8,8]}},
    "detail": {"field": "id"},
    "color": {"field": "ch", "type": "nominal", "scale": {"domain": ["VOUT","VEN","VSW","IL"], "range": ["#2263e6","#78f0d6","#9d3dff","#7ff014"]}, "legend": null}
   }},
  {"transform": [{"filter": "datum.k=='s'"}],
   "mark": {"type": "rule", "strokeWidth": 1.3, "opacity": 0.85},
   "encoding": {
    "x": {"field": "x", "type": "quantitative", "scale": {"domain": [0, 10]}, "axis": {"orient": "bottom", "offset": -158, "ticks": true, "tickSize": 3, "title": null, "values": [0,0.2,0.4,0.6,0.8,1,1.2,1.4,1.6,1.8,2,2.2,2.4,2.6,2.8,3,3.2,3.4,3.6,3.8,4,4.2,4.4,4.6,4.8,5,5.2,5.4,5.6,5.8,6,6.2,6.4,6.6,6.8,7,7.2,7.4,7.6,7.8,8,8.2,8.4,8.6,8.8,9,9.2,9.4,9.6,9.8,10]}},
    "y": {"field": "y", "type": "quantitative", "scale": {"domain": [0, 8]}, "axis": {"orient": "right", "offset": -158.5, "ticks": true, "tickSize": 3, "title": null, "values": [0,0.2,0.4,0.6,0.8,1,1.2,1.4,1.6,1.8,2,2.2,2.4,2.6,2.8,3,3.2,3.4,3.6,3.8,4,4.2,4.4,4.6,4.8,5,5.2,5.4,5.6,5.8,6,6.2,6.4,6.6,6.8,7,7.2,7.4,7.6,7.8,8]}},
    "y2": {"field": "y2"},
    "color": {"field": "ch", "type": "nominal", "scale": {"domain": ["VOUT","VEN","VSW","IL"], "range": ["#2263e6","#78f0d6","#9d3dff","#7ff014"]}, "legend": null}
   }},
  {"transform": [{"filter": "datum.k=='T'"}],
   "mark": {"type": "text", "align": "left", "baseline": "alphabetic", "fontSize": 27, "fontWeight": "bold", "color": "black"},
   "encoding": {
    "x": {"field": "x", "type": "quantitative", "scale": {"domain": [0, 10]}, "axis": {"orient": "top", "offset": -4, "ticks": true, "tickSize": 4, "title": null, "values": [0,0.2,0.4,0.6,0.8,1,1.2,1.4,1.6,1.8,2,2.2,2.4,2.6,2.8,3,3.2,3.4,3.6,3.8,4,4.2,4.4,4.6,4.8,5,5.2,5.4,5.6,5.8,6,6.2,6.4,6.6,6.8,7,7.2,7.4,7.6,7.8,8,8.2,8.4,8.6,8.8,9,9.2,9.4,9.6,9.8,10]}},
    "y": {"field": "y", "type": "quantitative", "scale": {"domain": [0, 8]}, "axis": {"orient": "left", "offset": -4, "ticks": true, "tickSize": 4, "title": null, "values": [0,0.2,0.4,0.6,0.8,1,1.2,1.4,1.6,1.8,2,2.2,2.4,2.6,2.8,3,3.2,3.4,3.6,3.8,4,4.2,4.4,4.6,4.8,5,5.2,5.4,5.6,5.8,6,6.2,6.4,6.6,6.8,7,7.2,7.4,7.6,7.8,8]}},
    "text": {"field": "txt"}
   }},
  {"transform": [{"filter": "datum.k=='u' && datum.s=='m'"}],
   "mark": {"type": "text", "align": "left", "baseline": "alphabetic", "fontSize": 19.5, "color": "black"},
   "encoding": {
    "x": {"field": "x", "type": "quantitative", "scale": {"domain": [0, 10]}, "axis": {"orient": "bottom", "offset": -4, "ticks": true, "tickSize": 4, "title": null, "values": [0,0.2,0.4,0.6,0.8,1,1.2,1.4,1.6,1.8,2,2.2,2.4,2.6,2.8,3,3.2,3.4,3.6,3.8,4,4.2,4.4,4.6,4.8,5,5.2,5.4,5.6,5.8,6,6.2,6.4,6.6,6.8,7,7.2,7.4,7.6,7.8,8,8.2,8.4,8.6,8.8,9,9.2,9.4,9.6,9.8,10]}},
    "y": {"field": "y", "type": "quantitative", "scale": {"domain": [0, 8]}, "axis": {"orient": "right", "offset": -4, "ticks": true, "tickSize": 4, "title": null, "values": [0,0.2,0.4,0.6,0.8,1,1.2,1.4,1.6,1.8,2,2.2,2.4,2.6,2.8,3,3.2,3.4,3.6,3.8,4,4.2,4.4,4.6,4.8,5,5.2,5.4,5.6,5.8,6,6.2,6.4,6.6,6.8,7,7.2,7.4,7.6,7.8,8]}},
    "text": {"field": "txt"}
   }},
  {"transform": [{"filter": "datum.k=='u' && datum.s=='s'"}],
   "mark": {"type": "text", "align": "left", "baseline": "alphabetic", "fontSize": 16, "color": "black"},
   "encoding": {
    "x": {"field": "x", "type": "quantitative", "scale": {"domain": [0, 10]}, "axis": null},
    "y": {"field": "y", "type": "quantitative", "scale": {"domain": [0, 8]}, "axis": null},
    "text": {"field": "txt"}
   }},
  {"transform": [{"filter": "datum.k=='m'"}],
   "mark": {"type": "point", "shape": "M-2.4,-1.1L-1.1,-1.1L-0.5,0L-1.1,1.1L-2.4,1.1Z", "size": 100, "strokeWidth": 1.2, "opacity": 1, "filled": true},
   "encoding": {
    "x": {"datum": 0, "type": "quantitative", "scale": {"domain": [0, 10]}, "axis": null},
    "y": {"field": "y", "type": "quantitative", "scale": {"domain": [0, 8]}, "axis": null},
    "stroke": {"field": "ch", "type": "nominal", "scale": {"domain": ["VOUT","VEN","VSW","IL"], "range": ["#2b3fd0","#47c9a8","#8c3cf0","#4fc21a"]}, "legend": null},
    "fill": {"condition": {"test": "datum.act", "field": "ch", "type": "nominal", "scale": {"domain": ["VOUT","VEN","VSW","IL"], "range": ["#2b3fd0","#23a583","#7a22e0","#3fb81a"]}, "legend": null}, "value": "white"}
   }},
  {"transform": [{"filter": "datum.k=='m'"}],
   "mark": {"type": "text", "dx": -7.5, "fontSize": 9, "align": "center", "baseline": "middle", "fontWeight": "bold"},
   "encoding": {
    "x": {"datum": 0, "type": "quantitative", "scale": {"domain": [0, 10]}, "axis": null},
    "y": {"field": "y", "type": "quantitative", "scale": {"domain": [0, 8]}, "axis": null},
    "text": {"field": "n"},
    "fill": {"condition": {"test": "datum.act", "value": "white"}, "field": "ch", "type": "nominal", "scale": {"domain": ["VOUT","VEN","VSW","IL"], "range": ["#2b3fd0","#23a583","#7a22e0","#3fb81a"]}, "legend": null}
   }},
  {"transform": [{"filter": "datum.k=='l'"}],
   "mark": {"type": "text", "align": "right", "baseline": "alphabetic", "dy": -5, "fontSize": 19, "fontWeight": "bold", "color": "black",
            "dx": {"expr": "datum.suf ? -83 : datum.sub=='OUT' ? -43 : datum.sub=='EN' ? -34 : datum.sub=='SW' ? -37 : -24"}},
   "encoding": {
    "x": {"datum": 0, "type": "quantitative", "scale": {"domain": [0, 10]}, "axis": null},
    "y": {"field": "y", "type": "quantitative", "scale": {"domain": [0, 8]}, "axis": null},
    "text": {"field": "mn"}
   }},
  {"transform": [{"filter": "datum.k=='l'"}],
   "mark": {"type": "text", "align": "right", "baseline": "alphabetic", "dy": -2, "fontSize": 13, "fontWeight": "bold", "color": "black",
            "dx": {"expr": "datum.suf ? -56 : -16"}},
   "encoding": {
    "x": {"datum": 0, "type": "quantitative", "scale": {"domain": [0, 10]}, "axis": null},
    "y": {"field": "y", "type": "quantitative", "scale": {"domain": [0, 8]}, "axis": null},
    "text": {"field": "sub"}
   }},
  {"transform": [{"filter": "datum.k=='l' && datum.suf"}],
   "mark": {"type": "text", "align": "right", "baseline": "alphabetic", "dy": -5, "dx": -16, "fontSize": 17, "fontWeight": "bold", "color": "black"},
   "encoding": {
    "x": {"datum": 0, "type": "quantitative", "scale": {"domain": [0, 10]}, "axis": null},
    "y": {"field": "y", "type": "quantitative", "scale": {"domain": [0, 8]}, "axis": null},
    "text": {"field": "suf"}
   }},
  {"transform": [{"filter": "datum.k=='l'"}],
   "mark": {"type": "text", "align": "right", "baseline": "alphabetic", "dy": 13, "dx": -16, "fontSize": 17, "fontWeight": "bold", "color": "black"},
   "encoding": {
    "x": {"datum": 0, "type": "quantitative", "scale": {"domain": [0, 10]}, "axis": null},
    "y": {"field": "y", "type": "quantitative", "scale": {"domain": [0, 8]}, "axis": null},
    "text": {"field": "sc"}
   }},
  {"transform": [{"filter": "datum.k=='g'"}],
   "mark": {"type": "point", "size": 64, "filled": true, "opacity": 1, "color": "#ff5a1f"},
   "encoding": {
    "x": {"field": "x", "type": "quantitative", "scale": {"domain": [0, 10]}, "axis": null},
    "y": {"datum": 8, "type": "quantitative", "scale": {"domain": [0, 8]}, "axis": null},
    "shape": {"field": "g", "type": "nominal", "scale": {"domain": ["T","t"], "range": ["M-0.9,0.15L0.9,0.15L0,1.6ZM-0.95,1.6L0.95,1.6L0.95,4.2L-0.95,4.2Z", "M-0.9,0.15L0.9,0.15L0,1.6Z"]}, "legend": null}
   }},
  {"transform": [{"filter": "datum.k=='g' && datum.g=='T'"}],
   "mark": {"type": "text", "text": "T", "dy": 12, "fontSize": 8.5, "fontWeight": "bold", "align": "center", "baseline": "middle", "color": "white"},
   "encoding": {
    "x": {"field": "x", "type": "quantitative", "scale": {"domain": [0, 10]}, "axis": null},
    "y": {"datum": 8, "type": "quantitative", "scale": {"domain": [0, 8]}, "axis": null}
   }},
  {"transform": [{"filter": "datum.k=='a'"}],
   "mark": {"type": "point", "shape": "M-2.9,0L-1.6,-1L-1.6,1ZM-1.6,-0.25L-1.2,-0.25L-1.2,0.25L-1.6,0.25Z", "size": 36, "filled": true, "opacity": 1, "color": "#2a3fd0"},
   "encoding": {
    "x": {"datum": 10, "type": "quantitative", "scale": {"domain": [0, 10]}, "axis": null},
    "y": {"field": "y", "type": "quantitative", "scale": {"domain": [0, 8]}, "axis": null}
   }},
  {"transform": [{"filter": "datum.k=='x'"}],
   "mark": {"type": "text", "align": "center", "baseline": "alphabetic", "dy": 24, "fontSize": 18, "fontWeight": "bold", "color": "black"},
   "encoding": {
    "x": {"datum": 5, "type": "quantitative", "scale": {"domain": [0, 10]}, "axis": null},
    "y": {"datum": 0, "type": "quantitative", "scale": {"domain": [0, 8]}, "axis": null},
    "text": {"field": "txt"}
   }}
 ]
},
"config": {
 "font": "Liberation Sans",
 "view": {"stroke": "#111", "strokeWidth": 2.6, "fill": "white"},
 "header": {"labels": false, "labelFontSize": 1, "labelPadding": 0, "labelExpr": "''", "titlePadding": 0},
 "headerFacet": {"labels": false, "labelFontSize": 1, "labelPadding": 0, "labelExpr": "''", "titlePadding": 0},
 "axis": {"labels": false, "ticks": false, "domain": false, "grid": false, "tickColor": "#333", "tickWidth": 1.1, "domainColor": "#333", "domainWidth": 1.3, "gridColor": "#333", "gridWidth": 1.4, "gridOpacity": 1}
}
}
